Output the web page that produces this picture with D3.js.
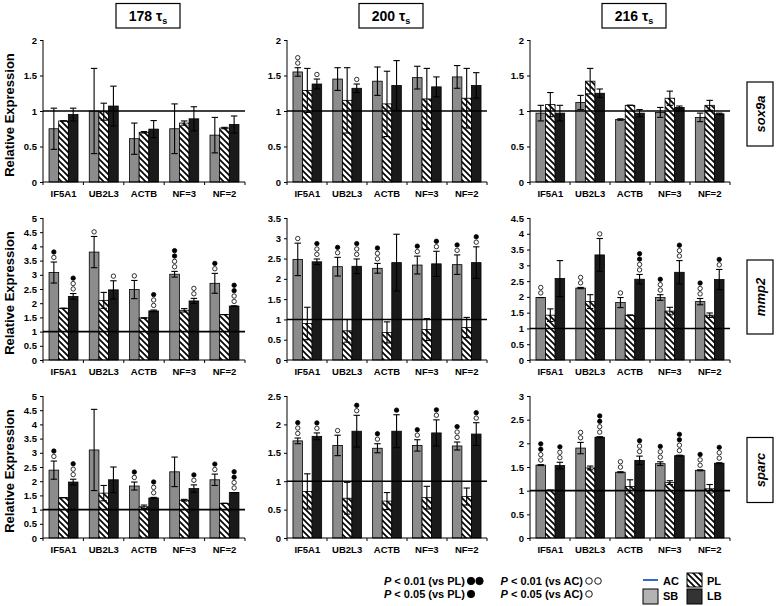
<!DOCTYPE html>
<html><head><meta charset="utf-8">
<script src="https://cdn.jsdelivr.net/npm/d3@7"></script>
<style>
body{margin:0;background:#fff;}
text{font-family:"Liberation Sans",Arial,sans-serif;font-weight:bold;}
</style></head>
<body><svg id="chart" width="776" height="606"></svg>
<script>
// ---------- data ----------
const categories = ["IF5A1","UB2L3","ACTB","NF=3","NF=2"];
const series = ["SB","PL","LB"];
const timepoints = ["178","200","216"];
const genes = ["sox9a","mmp2","sparc"];
const yMaxByGene = {sox9a:[2,2,2], mmp2:[5,3.5,4.5], sparc:[5,2.5,3]};

// means [SB, PL, LB], errors, significance marks (filled ● = vs PL, open ○ = vs AC)
const sox9a_178_mean = [[0.75,1.00,0.61,0.75,0.66],[0.86,0.99,0.70,0.83,0.76],[0.95,1.07,0.745,0.89,0.81]];
const sox9a_178_err  = [[0.29,0.60,0.22,0.35,0.25],[0.00,0.12,0.01,0.03,0.01],[0.09,0.28,0.12,0.17,0.12]];
const sox9a_178_sig  = [["","","","",""],["","","","",""],["","","","",""]];

const sox9a_200_mean = [[1.55,1.45,1.42,1.47,1.48],[1.29,1.15,1.10,1.17,1.18],[1.38,1.32,1.36,1.34,1.36]];
const sox9a_200_err  = [[0.06,0.16,0.20,0.16,0.16],[0.31,0.46,0.46,0.43,0.42],[0.07,0.06,0.35,0.14,0.18]];
const sox9a_200_sig  = [["○○","","","",""],["","","","",""],["○","○","","",""]];

const sox9a_216_mean = [[0.97,1.12,0.88,0.98,0.91],[1.09,1.42,1.08,1.18,1.08],[0.97,1.25,0.97,1.05,0.96]];
const sox9a_216_err  = [[0.11,0.10,0.01,0.07,0.06],[0.17,0.18,0.00,0.10,0.07],[0.11,0.06,0.05,0.02,0.01]];
const sox9a_216_sig  = [["","","","",""],["","","","",""],["","","","",""]];

const mmp2_178_mean = [[3.08,3.80,2.48,3.02,2.70],[1.82,2.10,1.48,1.75,1.60],[2.24,2.47,1.73,2.08,1.90]];
const mmp2_178_err  = [[0.37,0.55,0.32,0.10,0.35],[0.00,0.28,0.00,0.06,0.00],[0.10,0.32,0.03,0.09,0.00]];
const mmp2_178_sig  = [["●○","○","○","●●○○","●○"],["","","","",""],["●○○","○","●○○","○○","●●○○"]];

const mmp2_200_mean = [[2.48,2.30,2.26,2.34,2.35],[0.90,0.72,0.68,0.75,0.80],[2.42,2.31,2.40,2.37,2.40]];
const mmp2_200_err  = [[0.40,0.23,0.12,0.22,0.24],[0.40,0.28,0.26,0.27,0.25],[0.07,0.18,0.70,0.31,0.39]];
const mmp2_200_sig  = [["○","●○","●○○","●○","●○"],["","","","",""],["●○○","●○○","","●○","●○"]];

const mmp2_216_mean = [[1.98,2.28,1.82,1.98,1.85],[1.42,1.85,1.42,1.55,1.42],[2.58,3.33,2.56,2.78,2.55]];
const mmp2_216_err  = [[0.00,0.02,0.16,0.09,0.10],[0.20,0.22,0.00,0.12,0.07],[0.57,0.52,0.15,0.37,0.32]];
const mmp2_216_sig  = [["○○","○○","○","●○○","●○○"],["","","","",""],["","○","●●○○","●○○","●○"]];

const sparc_178_mean = [[2.39,3.10,1.83,2.33,2.05],[1.42,1.58,1.10,1.33,1.22],[1.97,2.05,1.41,1.74,1.60]];
const sparc_178_err  = [[0.32,1.43,0.14,0.52,0.20],[0.00,0.27,0.06,0.03,0.00],[0.10,0.45,0.02,0.13,0.00]];
const sparc_178_sig  = [["●○","","●○","","●○"],["","","","",""],["●○○","","●○○","●○","●●○○"]];

const sparc_200_mean = [[1.71,1.63,1.58,1.63,1.62],[0.82,0.70,0.65,0.71,0.73],[1.79,1.88,1.88,1.85,1.83]];
const sparc_200_err  = [[0.05,0.18,0.08,0.10,0.07],[0.31,0.28,0.15,0.20,0.15],[0.06,0.28,0.29,0.23,0.20]];
const sparc_200_sig  = [["●○○","○","●○","●○","●○○"],["","","","",""],["●○","●○","●","●○","●○"]];

const sparc_216_mean = [[1.54,1.90,1.39,1.57,1.43],[1.01,1.48,1.09,1.17,1.04],[1.53,2.13,1.64,1.74,1.58]];
const sparc_216_err  = [[0.01,0.12,0.01,0.04,0.01],[0.00,0.04,0.14,0.04,0.09],[0.07,0.01,0.09,0.01,0.01]];
const sparc_216_sig  = [["●●○○","○○","○○","●○○","●○○"],["","","","",""],["●○○","●●○○","●○○","●●○○","●○○"]];

const panelData = {
  sox9a:[[sox9a_178_mean,sox9a_178_err,sox9a_178_sig],[sox9a_200_mean,sox9a_200_err,sox9a_200_sig],[sox9a_216_mean,sox9a_216_err,sox9a_216_sig]],
  mmp2:[[mmp2_178_mean,mmp2_178_err,mmp2_178_sig],[mmp2_200_mean,mmp2_200_err,mmp2_200_sig],[mmp2_216_mean,mmp2_216_err,mmp2_216_sig]],
  sparc:[[sparc_178_mean,sparc_178_err,sparc_178_sig],[sparc_200_mean,sparc_200_err,sparc_200_sig],[sparc_216_mean,sparc_216_err,sparc_216_sig]]
};

// ---------- layout ----------
const colX = [43, 287, 530];
const colW = [202, 200, 200];
const rowTop = [40, 218, 396];
const rowBot = [182, 360, 538];
const fills = {SB:"#8c8c8c", PL:"url(#hatch)", LB:"#1a1a1a"};

const svg = d3.select("#chart");
const defs = svg.append("defs");
const pat = defs.append("pattern").attr("id","hatch").attr("patternUnits","userSpaceOnUse")
  .attr("width",6).attr("height",6);
pat.append("rect").attr("width",6).attr("height",6).attr("fill","#fff");
pat.append("path").attr("d","M0,0L6,6M-3,3L3,9M3,-3L9,3").attr("stroke","#000").attr("stroke-width",1.7);

// headers
timepoints.forEach((t,c)=>{
  const cx = colX[c] + colW[c]/2 + 4;
  svg.append("rect").attr("x",cx-32).attr("y",3.5).attr("width",64).attr("height",24.5)
    .attr("fill","#fff").attr("stroke","#000").attr("stroke-width",1.2);
  const tx = svg.append("text").attr("x",cx).attr("y",21).attr("text-anchor","middle")
    .style("font-family","'Liberation Sans Narrow','Arial Narrow',sans-serif").style("font-size","14px");
  tx.append("tspan").text(t+" τ");
  tx.append("tspan").attr("dy",3).style("font-size","9px").text("s");
});

genes.forEach((g,r)=>{
  const y0 = rowBot[r], y1 = rowTop[r];
  // y title
  svg.append("text").attr("transform",`translate(14,${(y0+y1)/2+4}) rotate(-90)`)
    .attr("text-anchor","middle").style("font-size","13px").text("Relative Expression");
  // gene label box
  const bh = [64,74,65][r];
  const bcy = [114,297,470][r];
  svg.append("rect").attr("x",747).attr("y",bcy-bh/2).attr("width",26).attr("height",bh)
    .attr("fill","#fff").attr("stroke","#000").attr("stroke-width",1.2);
  svg.append("text").attr("transform",`translate(765,${bcy}) rotate(-90)`)
    .attr("text-anchor","middle").style("font-size","13px").style("font-style","italic").text(g);

  timepoints.forEach((t,c)=>{
    const [mean, err, sig] = panelData[g][c];
    const x0 = colX[c], w = colW[c];
    const ymax = yMaxByGene[g][c];
    const y = d3.scaleLinear().domain([0,ymax]).range([y0,y1]);
    const xb = d3.scaleBand().domain(categories).range([x0,x0+w]).paddingInner(0.28).paddingOuter(0.15);
    const xs = d3.scaleBand().domain(series).range([0,xb.bandwidth()]);
    const G = svg.append("g");

    // bars
    series.forEach((s,si)=>{
      categories.forEach((cat,ci)=>{
        const v = mean[si][ci];
        G.append("rect").attr("x",xb(cat)+xs(s)).attr("y",y(v))
          .attr("width",xs.bandwidth()).attr("height",y0-y(v))
          .attr("fill",fills[s]).attr("stroke","#000").attr("stroke-width",0.8);
      });
    });
    // reference line at 1
    G.append("line").attr("x1",x0).attr("x2",x0+w).attr("y1",y(1)).attr("y2",y(1))
      .attr("stroke","#000").attr("stroke-width",1.6);
    // error bars & significance
    series.forEach((s,si)=>{
      categories.forEach((cat,ci)=>{
        const v = mean[si][ci], e = err[si][ci];
        const cx = xb(cat)+xs(s)+xs.bandwidth()/2;
        const lineCol = s==="LB" ? "#000" : "#000";
        G.append("line").attr("x1",cx).attr("x2",cx).attr("y1",y(v-e)).attr("y2",y(v+e))
          .attr("stroke",lineCol).attr("stroke-width",1.1);
        [v-e, v+e].forEach(val=>{
          G.append("line").attr("x1",cx-3.2).attr("x2",cx+3.2).attr("y1",y(val)).attr("y2",y(val))
            .attr("stroke",lineCol).attr("stroke-width",1.1);
        });
        const marks = Array.from(sig[si][ci]).reverse(); // bottom to top
        marks.forEach((m,k)=>{
          G.append("circle").attr("cx",cx).attr("cy",y(v+e)-4.6-k*5.4).attr("r",2.2)
            .attr("fill", m==="●" ? "#000" : "#fff").attr("stroke","#000").attr("stroke-width",0.8);
        });
      });
    });
    // axes
    const yAxis = d3.axisLeft(y).tickValues(d3.range(0,ymax+0.001,0.5)).tickSize(3).tickPadding(3)
      .tickFormat(d=>d3.format("~g")(d));
    const ya = svg.append("g").attr("transform",`translate(${x0},0)`).call(yAxis);
    ya.select(".domain").attr("d",`M0,${y0}V${y1}`);
    ya.selectAll("text").style("font-size","9.5px").style("font-family","'Liberation Sans',Arial,sans-serif").style("font-weight","bold");
    const xa = svg.append("g");
    xa.append("line").attr("x1",x0).attr("x2",x0+w).attr("y1",y0).attr("y2",y0).attr("stroke","#000").attr("stroke-width",1);
    d3.range(0,categories.length+1).forEach(i=>{
      const xx = x0 + i*w/categories.length;
      xa.append("line").attr("x1",xx).attr("x2",xx).attr("y1",y0).attr("y2",y0+3).attr("stroke","#000");
    });
    categories.forEach(cat=>{
      xa.append("text").attr("x",xb(cat)+xb.bandwidth()/2).attr("y",y0+14.5)
        .attr("text-anchor","middle").style("font-size","9.5px").text(cat);
    });
  });
});

// ---------- legend ----------
const L = svg.append("g").style("font-size","11px");
function pText(x,yv,rest){
  const t = L.append("text").attr("x",x).attr("y",yv).attr("text-anchor","end");
  t.append("tspan").style("font-style","italic").text("P");
  t.append("tspan").text(rest);
}
pText(465,585," < 0.01 (vs PL)");
pText(465,598," < 0.05 (vs PL)");
pText(583,585," < 0.01 (vs AC)");
pText(583,598," < 0.05 (vs AC)");
[[471,581,1],[479.5,581,1],[471,594,1],[589,581,0],[598,581,0],[589,594,0]].forEach(d=>{
  L.append("circle").attr("cx",d[0]).attr("cy",d[1]).attr("r",d[2]?3.7:3.3)
    .attr("fill",d[2]?"#000":"#fff").attr("stroke","#000").attr("stroke-width",0.9);
});
L.append("line").attr("x1",643).attr("x2",658).attr("y1",580).attr("y2",580).attr("stroke","#3a66c8").attr("stroke-width",2);
L.append("text").attr("x",663).attr("y",585).text("AC");
L.append("rect").attr("x",687).attr("y",573).attr("width",15).attr("height",14).attr("fill","url(#hatch)").attr("stroke","#000");
L.append("text").attr("x",707).attr("y",585).text("PL");
L.append("rect").attr("x",643).attr("y",589).attr("width",15).attr("height",15).attr("fill","#b3b3b3").attr("stroke","#000");
L.append("text").attr("x",663).attr("y",600).text("SB");
L.append("rect").attr("x",687).attr("y",589).attr("width",15).attr("height",15).attr("fill","#333").attr("stroke","#000");
L.append("text").attr("x",707).attr("y",600).text("LB");
</script></body></html>
